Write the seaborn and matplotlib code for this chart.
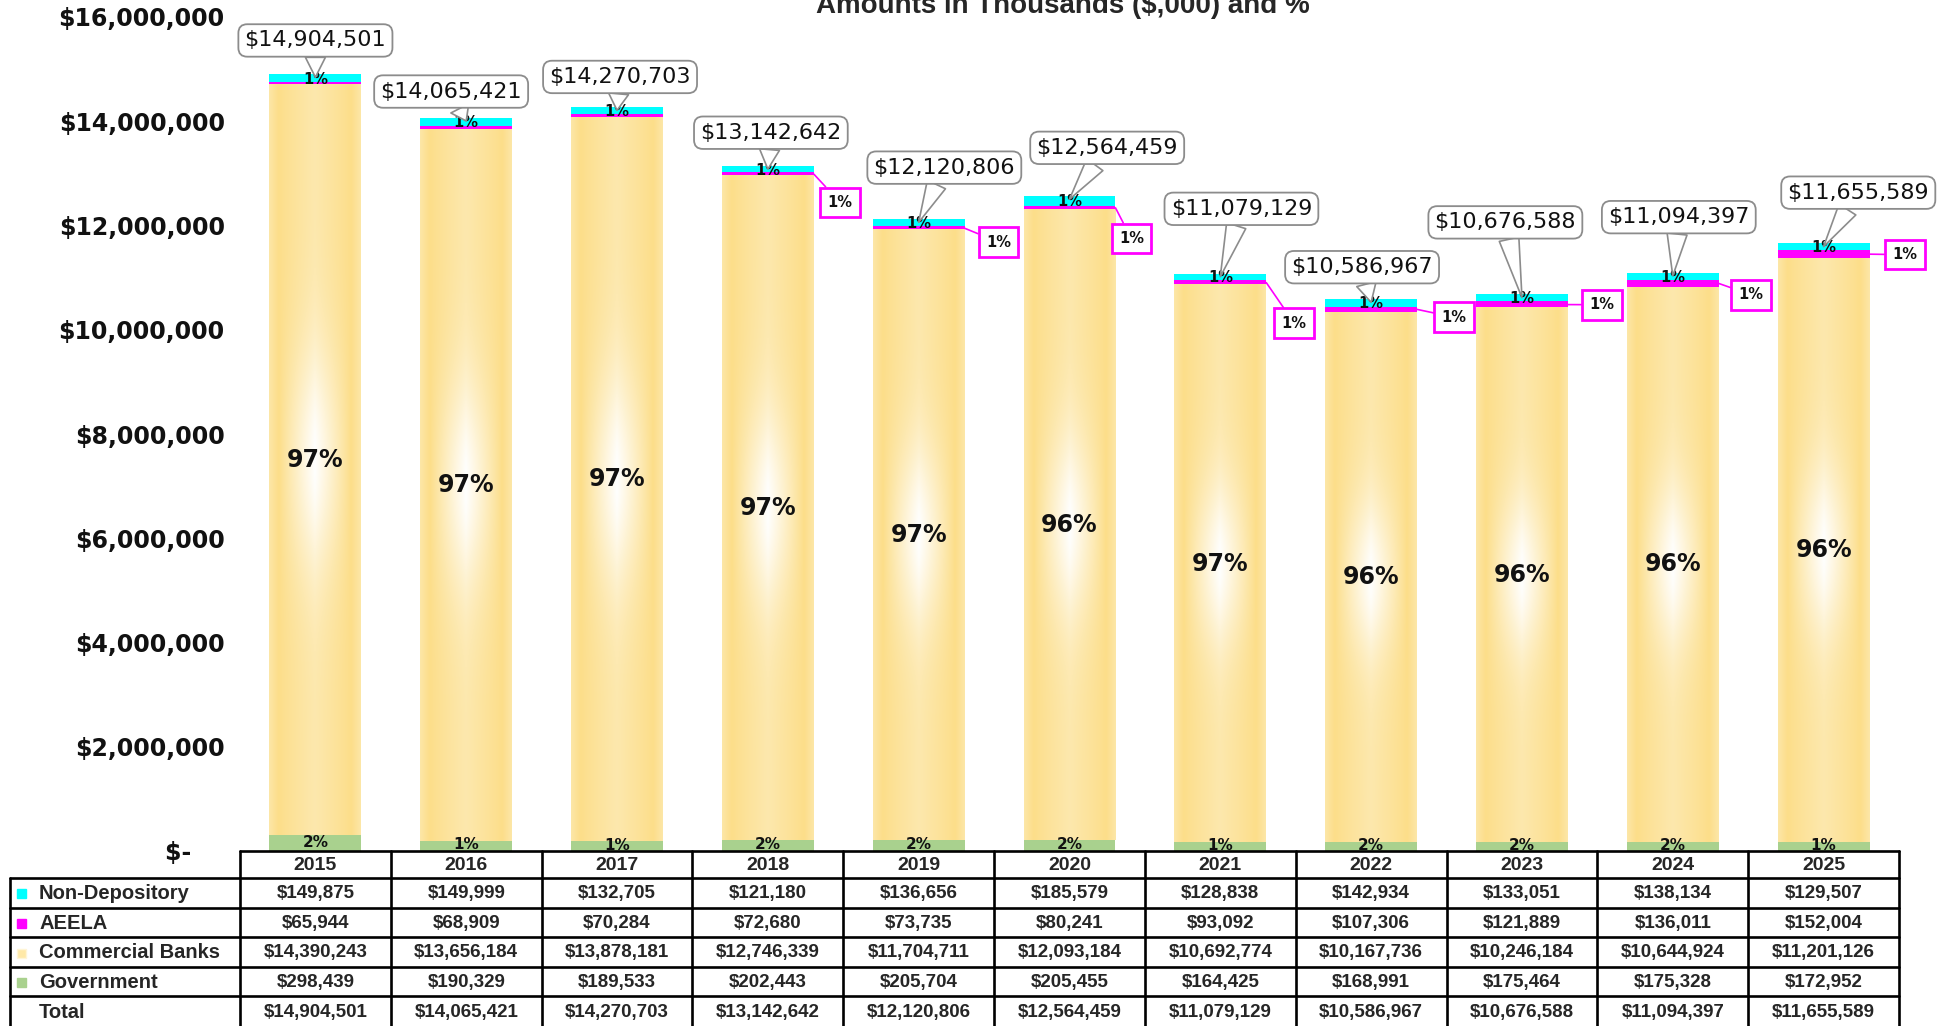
import numpy as np
import pandas as pd
import matplotlib
matplotlib.use("Agg")
import matplotlib.pyplot as plt
from matplotlib import font_manager
from matplotlib.patches import Rectangle
import seaborn as sns

sns.set_theme(style="white")
plt.rcParams['font.family'] = ['DejaVu Sans']

# data (thousands of $)
years = ['2015', '2016', '2017', '2018', '2019', '2020', '2021', '2022', '2023', '2024', '2025']
non_dep = [149875, 149999, 132705, 121180, 136656, 185579, 128838, 142934, 133051, 138134, 129507]
aeela = [65944, 68909, 70284, 72680, 73735, 80241, 93092, 107306, 121889, 136011, 152004]
banks = [14390243, 13656184, 13878181, 12746339, 11704711, 12093184, 10692774, 10167736, 10246184, 10644924, 11201126]
govt = [298439, 190329, 189533, 202443, 205704, 205455, 164425, 168991, 175464, 175328, 172952]
series = ['Non-Depository', 'AEELA', 'Commercial Banks', 'Government']
title = "Amounts in Thousands ($,000) and %"

df = pd.DataFrame({'Year': years, 'Non-Depository': non_dep, 'AEELA': aeela,
                   'Commercial Banks': banks, 'Government': govt})
df['Total'] = df[series].sum(axis=1)
df['cum_gov'] = df['Government']
df['cum_bank'] = df['cum_gov'] + df['Commercial Banks']
df['cum_aeela'] = df['cum_bank'] + df['AEELA']

cyan, magenta, gold, green = '#00FFFF', '#FF00FF', '#FCE08F', '#A9D18E'
colors = {'Non-Depository': cyan, 'AEELA': magenta, 'Commercial Banks': '#FFE9A8', 'Government': green}

# label placement (offsets in category units, heights in $)
total_dx = [0, -0.1, 0.02, 0.02, 0.17, 0.25, 0.14, -0.06, -0.11, 0.04, 0.23]
total_y = [15.55e6, 14.57e6, 14.85e6, 13.78e6, 13.11e6, 13.49e6, 12.32e6, 11.20e6, 12.06e6, 12.16e6, 12.63e6]
aeela_dx = [None, None, None, 0.48, 0.53, 0.41, 0.49, 0.55, 0.53, 0.52, 0.54]
aeela_y = [None, None, None, 12.44e6, 11.68e6, 11.75e6, 10.125e6, 10.24e6, 10.48e6, 10.67e6, 11.44e6]

try:
    font_manager.findfont('Liberation Sans Narrow', fallback_to_default=False)
    call_font, call_size = 'Liberation Sans Narrow', 21
except ValueError:
    call_font, call_size = 'DejaVu Sans', 16

W, H = 1951, 1026
fig = plt.figure(figsize=(W / 100, H / 100), dpi=100)
x0, x1, yb, yt = 240, 1899, 851, 17
ax = fig.add_axes([x0 / W, 1 - yb / H, (x1 - x0) / W, (yb - yt) / H])
bw = 0.61

sns.barplot(data=df, x='Year', y='Total', color=cyan, saturation=1, width=bw, linewidth=0, ax=ax, zorder=1)
sns.barplot(data=df, x='Year', y='cum_aeela', color=magenta, saturation=1, width=bw, linewidth=0, ax=ax, zorder=1)
sns.barplot(data=df, x='Year', y='cum_bank', color=gold, saturation=1, width=bw, linewidth=0, ax=ax, zorder=1)
sns.barplot(data=df, x='Year', y='cum_gov', color=green, saturation=1, width=bw, linewidth=0, ax=ax, zorder=3)

# rectangular-ish gradient on the commercial banks segment
nx, ny = 120, 400
hx = np.abs(np.linspace(-1, 1, nx))[None, :]
hy = np.abs(np.linspace(-1, 1, ny))[:, None]
core = np.clip(1 - hx / 0.78, 0, 1) ** 0.9
w = core * (0.3 + 0.7 * np.exp(-(hy / 0.3) ** 2)) + 0.25 * np.clip((hx - 0.8) / 0.2, 0, 1)
w = np.clip(w, 0, 1)[..., None]
gold_rgb = np.array([252, 222, 138]) / 255
grad = gold_rgb * (1 - w) + np.ones(3) * w
for i, r in df.iterrows():
    ax.imshow(grad, extent=(i - bw / 2, i + bw / 2, r['cum_gov'], r['cum_bank']),
              aspect='auto', origin='lower', zorder=2, interpolation='bilinear')

for i, r in df.iterrows():
    tot = r['Total']
    ax.text(i, (r['cum_gov'] + r['cum_bank']) / 2, f"{r['Commercial Banks'] / tot:.0%}",
            ha='center', va='center', fontsize=17, fontweight='bold', color='#111111', zorder=5)
    ax.text(i, r['cum_gov'] / 2 + 20000, f"{r['Government'] / tot:.0%}",
            ha='center', va='center', fontsize=11, fontweight='bold', color='#111111', zorder=5)
    ax.text(i, (r['cum_aeela'] + tot) / 2 - 20000, f"{r['Non-Depository'] / tot:.0%}",
            ha='center', va='center', fontsize=10.5, fontweight='bold', color='#111111', zorder=5)
    ax.annotate(f"${tot:,.0f}", xy=(i, tot - 60000), xytext=(i + total_dx[i], total_y[i]),
                ha='center', va='center', fontsize=call_size, family=call_font, color='#111111', zorder=6,
                bbox=dict(boxstyle='round,pad=0.28,rounding_size=0.4', fc='white', ec='#8c8c8c', lw=1.3),
                arrowprops=dict(arrowstyle='wedge,tail_width=0.9,shrink_factor=0.5', fc='white',
                                ec='#8c8c8c', lw=1.2, shrinkA=0, shrinkB=0))
    if aeela_dx[i] is not None:
        ax.annotate(f"{r['AEELA'] / tot:.0%}", xy=(i + bw / 2, (r['cum_bank'] + r['cum_aeela']) / 2),
                    xytext=(i + aeela_dx[i], aeela_y[i]), ha='center', va='center',
                    fontsize=10.5, fontweight='bold', color='#111111', zorder=6,
                    bbox=dict(boxstyle='square,pad=0.5', fc='white', ec=magenta, lw=2),
                    arrowprops=dict(arrowstyle='-', color=magenta, lw=1.2, shrinkA=0, shrinkB=0))

ax.set_xlim(-0.5, 10.5)
ax.set_ylim(0, 16e6)
ticks = np.arange(0, 16e6 + 1, 2e6)
ax.set_yticks(ticks, labels=["$-    " if t == 0 else f"${t:,.0f}" for t in ticks],
              fontsize=17, fontweight='bold')
ax.tick_params(axis='y', length=0, pad=11, colors='#111111')
ax.tick_params(axis='x', length=0, labelbottom=False)
ax.set_xlabel('')
ax.set_ylabel('')
sns.despine(ax=ax, left=True, bottom=True)

# data table
col_px = (x1 - x0) / 11
tl = -0.5 - (x0 - 10) / col_px
tax = fig.add_axes([10 / W, 0, (x1 - 10) / W, (H - yb) / H])
tax.set_xlim(tl, 10.5)
tax.set_ylim(H - yb, 0)
tax.axis('off')
lw = 1.9
hh, rh = 27, 29.6
tf = 'Liberation Sans'
tax.plot([-0.5, 10.5], [0, 0], color='black', lw=lw, clip_on=False)
for k in range(12):
    tax.plot([k - 0.5, k - 0.5], [0, H - yb], color='black', lw=lw, clip_on=False)
tax.plot([tl, tl], [hh, H - yb], color='black', lw=lw, clip_on=False)
for j in range(5):
    tax.plot([tl, 10.5], [hh + j * rh, hh + j * rh], color='black', lw=lw, clip_on=False)
for i, y in enumerate(years):
    tax.text(i, hh / 2 + 1, y, ha='center', va='center', fontsize=14, fontweight='bold', family=tf)
rows = series + ['Total']
for j, name in enumerate(rows):
    yc = hh + (j + 0.5) * rh + 1
    if name in colors:
        tax.add_patch(Rectangle((tl + 7 / col_px, yc - 4.5), 9 / col_px, 9, fc=colors[name],
                                ec='#FFF5D6' if name == 'Commercial Banks' else colors[name], lw=1))
    tax.text(tl + 29 / col_px, yc, name, ha='left', va='center', fontsize=14.5, fontweight='bold', family=tf)
    for i in range(len(years)):
        tax.text(i, yc, f"${df.loc[i, name]:,.0f}", ha='center', va='center', fontsize=13.5,
                 fontweight='bold', family=tf)

fig.text(1063 / W, 1 - 13 / H, title, ha='center', va='baseline', fontsize=20, fontweight='bold', family=tf)

fig.savefig('out.png', dpi=100)
